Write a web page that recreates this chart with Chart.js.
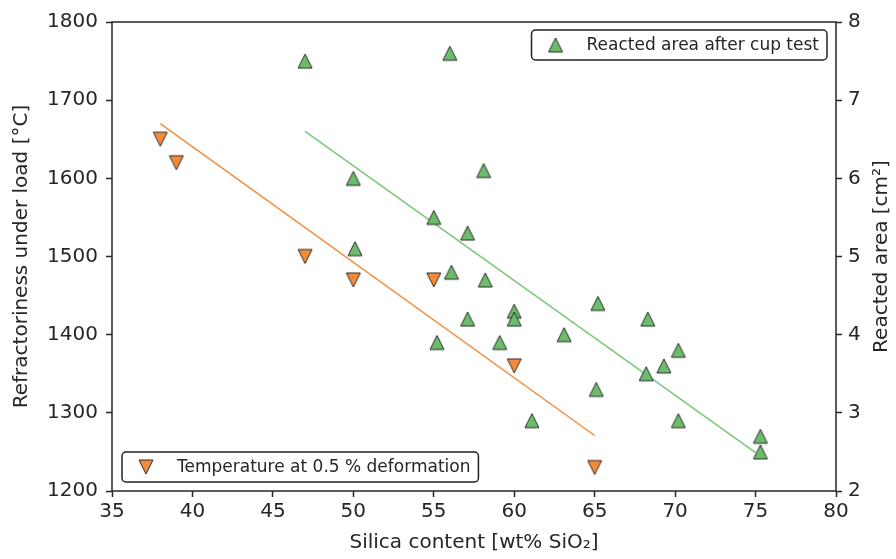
<!DOCTYPE html>
<html>
<head>
<meta charset="utf-8">
<script src="https://cdn.jsdelivr.net/npm/chart.js@4.4.0/dist/chart.umd.min.js"></script>
<style>
    html, body { margin: 0; padding: 0; background: #fff; }
    #wrap { width: 896px; height: 559px; }
</style>
</head>
<body>
<div id="wrap"><canvas id="myChart" width="896" height="559"></canvas></div>
<script>
// temperature at 0.5 % deformation (left axis)
var tempSilica = [38, 39, 47, 50, 55, 60, 65];
var tempValues = [1650, 1620, 1500, 1470, 1470, 1360, 1230];

// reacted area after cup test (right axis)
var areaSilica = [47, 56, 58.1, 50, 55, 57.1, 50.1, 56.1, 58.2, 65.2, 60, 60, 57.1, 68.3,
    63.1, 70.2, 55.2, 59.1, 69.3, 68.2, 65.1, 61.1, 70.2, 75.3, 75.3];
var areaValues = [7.5, 7.6, 6.1, 6.0, 5.5, 5.3, 5.1, 4.8, 4.7, 4.4, 4.3, 4.2, 4.2, 4.2,
    4.0, 3.8, 3.9, 3.9, 3.6, 3.5, 3.3, 2.9, 2.9, 2.7, 2.5];

// linear fits
var tempFitX = [38, 65];
var tempFitY = [1670, 1271];
var areaFitX = [47, 75];
var areaFitY = [6.6, 2.49];

var xTicks = [35, 40, 45, 50, 55, 60, 65, 70, 75, 80];

var orange = '#f48b3b';
var green = '#6bbd6b';
var ink = '#262626';
var font = '"DejaVu Sans", sans-serif';

function toPoints(xs, ys) {
    var out = [];
    for (var i = 0; i < xs.length; i++) {
        out.push({x: xs[i], y: ys[i]});
    }
    return out;
}

// triangle marker drawn once into a small canvas
function triangleMarker(fill, pointDown) {
    var c = document.createElement('canvas');
    c.width = 18;
    c.height = 18;
    var g = c.getContext('2d');
    var h = 7;
    g.beginPath();
    if (pointDown) {
        g.moveTo(9 - h, 9 - h);
        g.lineTo(9 + h, 9 - h);
        g.lineTo(9, 9 + h);
    } else {
        g.moveTo(9, 9 - h);
        g.lineTo(9 + h, 9 + h);
        g.lineTo(9 - h, 9 + h);
    }
    g.closePath();
    g.fillStyle = fill;
    g.fill();
    g.lineWidth = 1;
    g.strokeStyle = '#2b2b2b';
    g.stroke();
    return c;
}

var downMarker = triangleMarker(orange, true);
var upMarker = triangleMarker(green, false);

function legendBox(ctx, x, y, h, marker, text) {
    ctx.font = '17px ' + font;
    var w = 55 + ctx.measureText(text).width + 8;
    if (x < 0) x = -x - w;
    ctx.save();
    ctx.beginPath();
    ctx.roundRect(x, y, w, h, 4);
    ctx.fillStyle = 'rgba(255,255,255,0.85)';
    ctx.fill();
    ctx.lineWidth = 1.5;
    ctx.strokeStyle = '#222';
    ctx.stroke();
    ctx.drawImage(marker, x + 24 - 9, y + h / 2 - 9);
    ctx.fillStyle = ink;
    ctx.textBaseline = 'middle';
    ctx.textAlign = 'left';
    ctx.fillText(text, x + 55, y + h / 2 + 1);
    ctx.restore();
}

var framePlugin = {
    id: 'frame',
    afterDraw: function (chart) {
        var ctx = chart.ctx, a = chart.chartArea;
        ctx.save();
        ctx.lineWidth = 1.5;
        ctx.strokeStyle = ink;
        ctx.strokeRect(a.left, a.top, a.right - a.left, a.bottom - a.top);

        // axis titles
        ctx.fillStyle = ink;
        ctx.font = '20px ' + font;
        ctx.textAlign = 'center';
        ctx.textBaseline = 'middle';
        var cy = (a.top + a.bottom) / 2;
        ctx.fillText('Silica content [wt% SiO\u2082]', (a.left + a.right) / 2, 543);

        ctx.save();
        ctx.translate(22, cy);
        ctx.rotate(-Math.PI / 2);
        ctx.fillText('Refractoriness under load [\u00b0C]', 0, 0);
        ctx.restore();

        ctx.save();
        ctx.translate(882, cy);
        ctx.rotate(-Math.PI / 2);
        ctx.fillText('Reacted area [cm\u00b2]', 0, 0);
        ctx.restore();
        ctx.restore();

        legendBox(ctx, -(a.right - 9), a.top + 8, 30, upMarker, 'Reacted area after cup test');
        legendBox(ctx, a.left + 10, a.bottom - 39, 30, downMarker, 'Temperature at 0.5 % deformation');
    }
};

var tickGrid = {
    drawOnChartArea: false,
    drawTicks: true,
    tickLength: 6,
    tickWidth: 1.5,
    tickColor: ink
};

function plainLabel(v) {
    return String(v);
}

var ctx = document.getElementById('myChart').getContext('2d');
var mychart = new Chart(ctx, {
    type: 'scatter',
    data: {
        datasets: [
            {
                label: 'Temperature at 0.5 % deformation',
                data: toPoints(tempSilica, tempValues),
                yAxisID: 'y',
                pointStyle: downMarker,
                pointRadius: 7,
                order: 0
            },
            {
                label: 'Reacted area after cup test',
                data: toPoints(areaSilica, areaValues),
                yAxisID: 'y2',
                pointStyle: upMarker,
                pointRadius: 7,
                order: 0
            },
            {
                type: 'line',
                data: toPoints(tempFitX, tempFitY),
                yAxisID: 'y',
                borderColor: orange,
                borderWidth: 1.5,
                pointRadius: 0,
                fill: false,
                order: 1
            },
            {
                type: 'line',
                data: toPoints(areaFitX, areaFitY),
                yAxisID: 'y2',
                borderColor: '#7cc67a',
                borderWidth: 1.5,
                pointRadius: 0,
                fill: false,
                order: 1
            }
        ]
    },
    options: {
        responsive: false,
        animation: false,
        devicePixelRatio: 1,
        layout: {padding: {top: 22, left: 0, right: 0, bottom: 0}},
        plugins: {legend: {display: false}, tooltip: {enabled: false}},
        scales: {
            x: {
                type: 'linear',
                min: 35,
                max: 80,
                afterBuildTicks: function (s) {
                    s.ticks = xTicks.map(function (v) { return {value: v}; });
                },
                afterFit: function (s) { s.height = 68; },
                grid: tickGrid,
                border: {display: false},
                ticks: {color: ink, font: {family: font, size: 20}, padding: 3, maxRotation: 0, callback: plainLabel}
            },
            y: {
                position: 'left',
                min: 1200,
                max: 1800,
                afterFit: function (s) { s.width = 112; },
                grid: tickGrid,
                border: {display: false},
                ticks: {stepSize: 100, color: ink, font: {family: font, size: 20}, padding: 8, callback: plainLabel}
            },
            y2: {
                position: 'right',
                min: 2,
                max: 8,
                afterFit: function (s) { s.width = 60; },
                grid: tickGrid,
                border: {display: false},
                ticks: {stepSize: 1, color: ink, font: {family: font, size: 20}, padding: 6, callback: plainLabel}
            }
        }
    },
    plugins: [framePlugin]
});
</script>
</body>
</html>
